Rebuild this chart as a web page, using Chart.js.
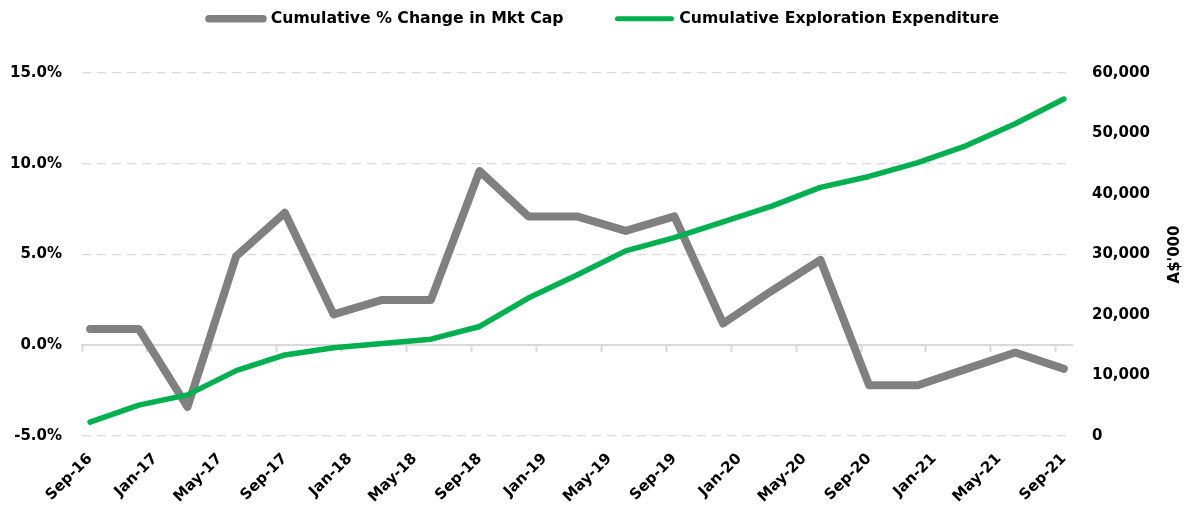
<!DOCTYPE html>
<html>
<head>
<meta charset="utf-8">
<script src="https://cdn.jsdelivr.net/npm/chart.js@4.4.1/dist/chart.umd.min.js"></script>
<style>
  html, body { margin: 0; padding: 0; background: #ffffff; }
  #wrap { width: 1196px; height: 515px; }
</style>
</head>
<body>
<div id="wrap"><canvas id="c" width="1196" height="515"></canvas></div>
<script>
// ---- Data ----
const months = [
  'Sep-16','Oct-16','Nov-16','Dec-16',
  'Jan-17','Feb-17','Mar-17','Apr-17','May-17','Jun-17','Jul-17','Aug-17','Sep-17','Oct-17','Nov-17','Dec-17',
  'Jan-18','Feb-18','Mar-18','Apr-18','May-18','Jun-18','Jul-18','Aug-18','Sep-18','Oct-18','Nov-18','Dec-18',
  'Jan-19','Feb-19','Mar-19','Apr-19','May-19','Jun-19','Jul-19','Aug-19','Sep-19','Oct-19','Nov-19','Dec-19',
  'Jan-20','Feb-20','Mar-20','Apr-20','May-20','Jun-20','Jul-20','Aug-20','Sep-20','Oct-20','Nov-20','Dec-20',
  'Jan-21','Feb-21','Mar-21','Apr-21','May-21','Jun-21','Jul-21','Aug-21','Sep-21'
];
const quarters = [
  'Sep-16','Dec-16','Mar-17','Jun-17','Sep-17','Dec-17','Mar-18','Jun-18','Sep-18','Dec-18','Mar-19',
  'Jun-19','Sep-19','Dec-19','Mar-20','Jun-20','Sep-20','Dec-20','Mar-21','Jun-21','Sep-21'
];
const tickLabels = [
  'Sep-16','Jan-17','May-17','Sep-17','Jan-18','May-18','Sep-18','Jan-19',
  'May-19','Sep-19','Jan-20','May-20','Sep-20','Jan-21','May-21','Sep-21'
];
const mktCapChange = [0.9, 0.9, -3.4, 4.9, 7.3, 1.7, 2.5, 2.5, 9.6, 7.1, 7.1,
                      6.3, 7.1, 1.2, 3.0, 4.7, -2.2, -2.2, -1.3, -0.4, -1.3];
const explorationExp = [2300, 5100, 6800, 10800, 13400, 14600, 15300, 16000, 18100, 22800, 26600,
                        30600, 32800, 35400, 38000, 41100, 42900, 45200, 48000, 51600, 55700];
const seriesNames = ['Cumulative % Change in Mkt Cap', 'Cumulative Exploration Expenditure'];
const rightAxisTitle = "A$'000";

// ---- Styles ----
const FONT = '"DejaVu Sans", sans-serif';
const GRAY = '#808080';
const GREEN = '#00B050';
const GRID = '#d9d9d9';
const lineWidths = [8, 5.5];

Chart.defaults.font.family = FONT;
Chart.defaults.font.weight = 'bold';
Chart.defaults.color = '#000000';

const legendFix = {
  id: 'legendFix',
  beforeLayout(chart) {
    const lg = chart.legend;
    if (lg && !lg._fixed) {
      const f = lg.fit;
      lg.fit = function () { f.call(this); this.height = 116; };
      lg._fixed = true;
    }
  },
  afterLayout(chart) {
    const lg = chart.legend;
    if (lg) { lg.left += 6; lg.right += 6; }
  }
};

const rightTitle = {
  id: 'rightTitle',
  afterDraw(chart) {
    const s = chart.scales.y1;
    const c = chart.ctx;
    c.save();
    c.translate(s.right - 21, (s.top + s.bottom) / 2);
    c.rotate(-Math.PI / 2);
    c.font = 'bold 15px ' + FONT;
    c.fillStyle = '#000000';
    c.textAlign = 'center';
    c.textBaseline = 'middle';
    c.fillText(rightAxisTitle, 0, 0);
    c.restore();
  }
};

new Chart(document.getElementById('c'), {
  type: 'line',
  data: {
    labels: months,
    datasets: [
      {
        label: seriesNames[0],
        data: quarters.map((q, i) => ({ x: q, y: mktCapChange[i] })),
        borderColor: GRAY,
        backgroundColor: GRAY,
        borderWidth: lineWidths[0],
        borderCapStyle: 'round',
        borderJoinStyle: 'round',
        pointRadius: 0,
        pointHoverRadius: 0,
        tension: 0,
        fill: false,
        xAxisID: 'x',
        yAxisID: 'y',
        order: 1
      },
      {
        label: seriesNames[1],
        data: quarters.map((q, i) => ({ x: q, y: explorationExp[i] })),
        borderColor: GREEN,
        backgroundColor: GREEN,
        borderWidth: lineWidths[1],
        borderCapStyle: 'round',
        borderJoinStyle: 'round',
        pointRadius: 0,
        pointHoverRadius: 0,
        tension: 0,
        fill: false,
        xAxisID: 'x',
        yAxisID: 'y1',
        order: 0
      }
    ]
  },
  options: {
    responsive: false,
    animation: false,
    devicePixelRatio: 1,
    layout: { padding: { top: -43, left: 0, right: 0, bottom: 0 } },
    plugins: {
      tooltip: { enabled: false },
      legend: {
        position: 'top',
        labels: {
          usePointStyle: true,
          pointStyle: 'line',
          pointStyleWidth: 54,
          padding: 54,
          color: '#000000',
          font: { size: 15.7, weight: 'bold', family: FONT },
          sort: (a, b) => a.datasetIndex - b.datasetIndex,
          generateLabels: (chart) =>
            Chart.defaults.plugins.legend.labels.generateLabels(chart).map((l) => ({
              ...l,
              pointStyle: 'line',
              lineCap: 'round',
              lineWidth: lineWidths[l.datasetIndex] - 0.5,
              strokeStyle: l.datasetIndex === 0 ? GRAY : GREEN,
              fillStyle: l.datasetIndex === 0 ? GRAY : GREEN
            }))
        }
      }
    },
    scales: {
      x: {
        type: 'category',
        position: 'bottom',
        offset: true,
        grid: { display: false },
        border: { display: false },
        ticks: {
          autoSkip: false,
          maxRotation: 45,
          minRotation: 45,
          padding: 6,
          color: '#000000',
          font: { size: 15, weight: 'bold', family: FONT },
          callback: function (val, idx) {
            const lab = months[idx];
            return tickLabels.includes(lab) ? lab : '';
          }
        },
        afterFit: (s) => { s.height = 79; }
      },
      x2: {
        type: 'category',
        axis: 'x',
        position: { y: 0 },
        offset: true,
        grid: {
          offset: true,
          drawOnChartArea: false,
          drawTicks: true,
          tickLength: 6,
          tickWidth: 2,
          tickColor: (ctx) => (ctx.index !== undefined && tickLabels.includes(months[ctx.index])) ? GRID : 'rgba(0,0,0,0)'
        },
        border: { display: true, color: GRID, width: 2 },
        ticks: { display: false, autoSkip: false }
      },
      y: {
        type: 'linear',
        position: 'left',
        min: -5,
        max: 15,
        ticks: {
          stepSize: 5,
          padding: 20,
          color: '#000000',
          font: { size: 15, weight: 'bold', family: FONT },
          callback: (v) => v.toFixed(1) + '%'
        },
        grid: {
          color: (ctx) => (ctx.tick && ctx.tick.value === 0) ? 'rgba(0,0,0,0)' : GRID,
          lineWidth: 1.3,
          drawTicks: false
        },
        border: { display: false, dash: [9, 6] },
        afterFit: (s) => { s.width = 82; }
      },
      y1: {
        type: 'linear',
        position: 'right',
        min: 0,
        max: 60000,
        ticks: {
          stepSize: 10000,
          padding: 20,
          color: '#000000',
          font: { size: 15, weight: 'bold', family: FONT },
          callback: (v) => v.toLocaleString('en-US')
        },
        grid: { drawOnChartArea: false, drawTicks: false },
        border: { display: false },
        afterFit: (s) => { s.width = 124; }
      }
    }
  },
  plugins: [legendFix, rightTitle]
});
</script>
</body>
</html>
